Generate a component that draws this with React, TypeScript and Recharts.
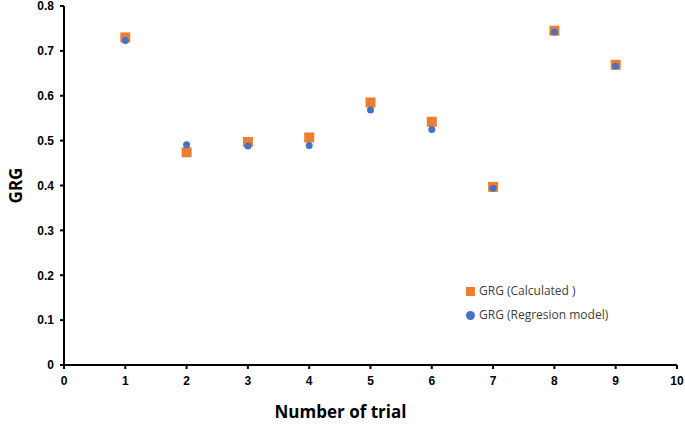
import React from 'react';
import {
  ScatterChart,
  Scatter,
  XAxis,
  YAxis,
  Legend,
} from 'recharts';

const trials = [1, 2, 3, 4, 5, 6, 7, 8, 9];
const grgCalculated = [0.73, 0.474, 0.497, 0.507, 0.585, 0.542, 0.397, 0.745, 0.669];
const grgRegression = [0.723, 0.491, 0.488, 0.489, 0.568, 0.525, 0.394, 0.742, 0.666];
const xTicks = [0, 1, 2, 3, 4, 5, 6, 7, 8, 9, 10];
const yTicks = [0, 0.1, 0.2, 0.3, 0.4, 0.5, 0.6, 0.7, 0.8];

const calcData = trials.map((t, i) => ({ trial: t, grg: grgCalculated[i] }));
const regData = trials.map((t, i) => ({ trial: t, grg: grgRegression[i] }));

const ORANGE = '#ED7D31';
const BLUE = '#4472C4';
const FONT = '"Open Sans", "Liberation Sans", sans-serif';
const TICK_FONT = '"Liberation Sans", Arial, sans-serif';

const SquareDot = (props: any) => {
  const { cx, cy } = props;
  if (cx == null || cy == null) return null;
  return <rect x={cx - 5} y={cy - 5} width={10} height={10} fill={ORANGE} />;
};

const RoundDot = (props: any) => {
  const { cx, cy } = props;
  if (cx == null || cy == null) return null;
  return <circle cx={cx} cy={cy} r={3.5} fill={BLUE} />;
};

const tickStyle = { fill: '#000', fontSize: 12, fontWeight: 700, fontFamily: TICK_FONT };

const App: React.FC = () => {
  return (
    <div style={{ position: 'absolute', left: 0, top: 0, background: '#fff' }}>
      <ScatterChart
        width={685}
        height={426}
        margin={{ top: 6, right: 8, bottom: 0, left: 0 }}
      >
        <XAxis
          type="number"
          dataKey="trial"
          domain={[0, 10]}
          ticks={xTicks}
          interval={0}
          height={61}
          tick={tickStyle}
          tickSize={4}
          tickMargin={7}
          stroke="#000"
          strokeWidth={2}
          tickLine={{ stroke: '#000', strokeWidth: 2 }}
          label={{
            value: 'Number of trial',
            position: 'insideBottom',
            offset: 8,
            dx: -30,
            style: { fill: '#000', fontSize: 17, fontWeight: 700, fontFamily: FONT },
          }}
        />
        <YAxis
          type="number"
          dataKey="grg"
          domain={[0, 0.8]}
          ticks={yTicks}
          interval={0}
          width={64}
          tick={tickStyle}
          tickSize={4}
          tickMargin={6}
          stroke="#000"
          strokeWidth={2}
          tickLine={{ stroke: '#000', strokeWidth: 2 }}
          label={{
            value: 'GRG',
            angle: -90,
            position: 'insideLeft',
            offset: 16,
            style: { fill: '#000', fontSize: 17, fontWeight: 700, fontFamily: FONT, textAnchor: 'middle' },
          }}
        />
        <Legend
          layout="vertical"
          verticalAlign="middle"
          align="center"
          iconSize={9}
          wrapperStyle={{ left: 466, top: 279, width: 'auto', fontFamily: FONT, fontSize: 12, lineHeight: '24px' }}
          formatter={(value: string) => <span style={{ color: '#404040' }}>{value}</span>}
        />
        <Scatter
          name="GRG (Calculated )"
          data={calcData}
          fill={ORANGE}
          legendType="square"
          shape={SquareDot}
          isAnimationActive={false}
        />
        <Scatter
          name="GRG (Regresion model)"
          data={regData}
          fill={BLUE}
          legendType="circle"
          shape={RoundDot}
          isAnimationActive={false}
        />
      </ScatterChart>
    </div>
  );
};

export default App;
